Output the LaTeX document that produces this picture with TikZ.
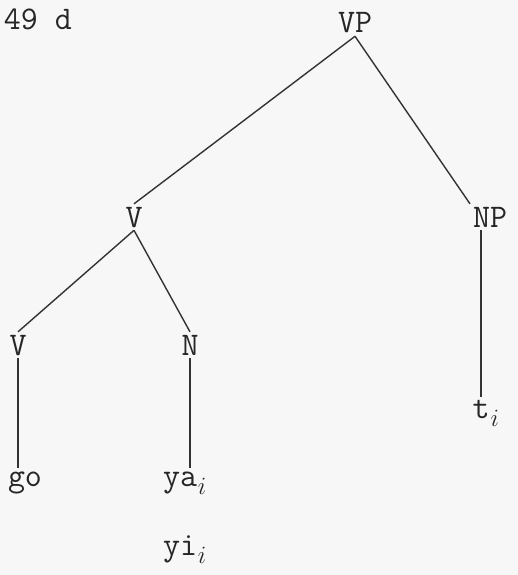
\documentclass[tikz,border=0pt]{standalone}
\usepackage{fontspec}
\newcommand\trsub{\rlap{\kern1pt\lower8pt\hbox{\fontsize{24}{24}\selectfont$i$}}}

\begin{document}
\begin{tikzpicture}[x=1pt,y=-1pt,
  lab/.style={font=\ttfamily\fontsize{33}{38}\selectfont,text=black!85,
              inner sep=0pt,outer sep=3pt,anchor=base},
  edge/.style={line width=1.4pt,draw=black!80}]
\useasboundingbox[fill=black!3] (0,0) rectangle (518,575);
\node[lab,anchor=base west] (num) at (1,30) {49 d};
\node[lab] (vp) at (355,33) {VP};
\node[lab] (v) at (134,227) {V};
\node[lab] (np) at (490,227) {NP};
\node[lab] (vl) at (18,355) {V};
\node[lab] (n) at (190,355) {N};
\node[lab] (go) at (25,486) {go};
\node[lab] (ya) at (180,486) {ya\trsub};
\node[lab] (yi) at (180,555) {yi\trsub};
\node[lab] (t) at (481,418) {t\trsub};
\draw[edge] (vp.south)--(v.north);
\draw[edge] (vp.south)--(np.north west);
\draw[edge] (v.south)--(vl.north);
\draw[edge] (v.south)--(n.north);
\draw[edge] (vl.south)--(vl.south |- go.north);
\draw[edge] (n.south)--(n.south |- ya.north);
\draw[edge] (t.north |- np.south)--(t.north);
\end{tikzpicture}
\end{document}
